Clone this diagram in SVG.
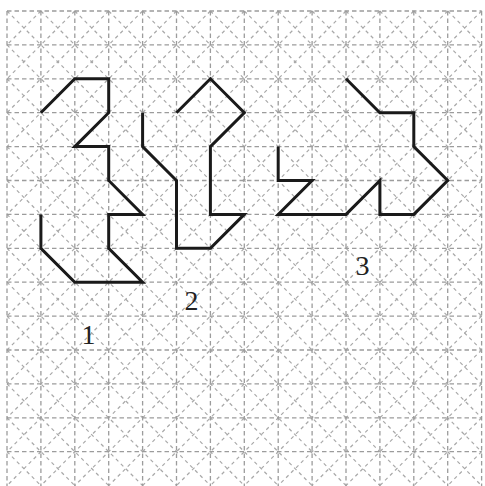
<svg xmlns="http://www.w3.org/2000/svg" width="485" height="486" viewBox="0 0 485 486">
<style>
.grid{fill:none;stroke:#9c9c9c;stroke-width:1.3;stroke-dasharray:4.5 3}
.diag{fill:none;stroke:#a8a8a8;stroke-width:1.2;stroke-dasharray:3.5 3.5}
.shape{fill:none;stroke:#1a1a1a;stroke-width:3;stroke-linejoin:miter;stroke-linecap:butt}
.lbl{font-family:"Liberation Serif","DejaVu Serif",serif;font-size:28px;fill:#222;text-anchor:middle}
</style>
<rect width="485" height="486" fill="#ffffff"/>
<g id="grid">
<path class="diag" d="M7,11L481.6,485.6M40.9,11L481.6,451.7M74.8,11L481.6,417.8M108.7,11L481.6,383.9M142.6,11L481.6,350M176.5,11L481.6,316.1M210.4,11L481.6,282.2M244.3,11L481.6,248.3M278.2,11L481.6,214.4M312.1,11L481.6,180.5M346,11L481.6,146.6M379.9,11L481.6,112.7M413.8,11L481.6,78.8M447.7,11L481.6,44.9M7,44.9L447.7,485.6M7,78.8L413.8,485.6M7,112.7L379.9,485.6M7,146.6L346,485.6M7,180.5L312.1,485.6M7,214.4L278.2,485.6M7,248.3L244.3,485.6M7,282.2L210.4,485.6M7,316.1L176.5,485.6M7,350L142.6,485.6M7,383.9L108.7,485.6M7,417.8L74.8,485.6M7,451.7L40.9,485.6"/>
<path class="diag" d="M40.9,11L7,44.9M74.8,11L7,78.8M108.7,11L7,112.7M142.6,11L7,146.6M176.5,11L7,180.5M210.4,11L7,214.4M244.3,11L7,248.3M278.2,11L7,282.2M312.1,11L7,316.1M346,11L7,350M379.9,11L7,383.9M413.8,11L7,417.8M447.7,11L7,451.7M481.6,11L7,485.6M481.6,44.9L40.9,485.6M481.6,78.8L74.8,485.6M481.6,112.7L108.7,485.6M481.6,146.6L142.6,485.6M481.6,180.5L176.5,485.6M481.6,214.4L210.4,485.6M481.6,248.3L244.3,485.6M481.6,282.2L278.2,485.6M481.6,316.1L312.1,485.6M481.6,350L346,485.6M481.6,383.9L379.9,485.6M481.6,417.8L413.8,485.6M481.6,451.7L447.7,485.6"/>
<path class="grid" d="M7,11V486M40.9,11V486M74.8,11V486M108.7,11V486M142.6,11V486M176.5,11V486M210.4,11V486M244.3,11V486M278.2,11V486M312.1,11V486M346,11V486M379.9,11V486M413.8,11V486M447.7,11V486M481.6,11V486"/>
<path class="grid" d="M7,11H481.6M7,44.9H481.6M7,78.8H481.6M7,112.7H481.6M7,146.6H481.6M7,180.5H481.6M7,214.4H481.6M7,248.3H481.6M7,282.2H481.6M7,316.1H481.6M7,350H481.6M7,383.9H481.6M7,417.8H481.6M7,451.7H481.6"/>
</g>
<g id="figure1">
<polyline class="shape" points="40.9,112.7 74.8,78.8 108.7,78.8 108.7,112.7 74.8,146.6 108.7,146.6 108.7,180.5 142.6,214.4 108.7,214.4 108.7,248.3 142.6,282.2 74.8,282.2 40.9,248.3 40.9,214.4"/>
<text class="lbl" x="88.5" y="344">1</text>
</g>
<g id="figure2">
<polyline class="shape" points="142.6,112.7 142.6,146.6 176.5,180.5 176.5,248.3 210.4,248.3 244.3,214.4 210.4,214.4 210.4,146.6 244.3,112.7 210.4,78.8 176.5,112.7"/>
<text class="lbl" x="191.5" y="310">2</text>
</g>
<g id="figure3">
<polyline class="shape" points="346,78.8 379.9,112.7 413.8,112.7 413.8,146.6 447.7,180.5 413.8,214.4 379.9,214.4 379.9,180.5 346,214.4 278.2,214.4 312.1,180.5 278.2,180.5 278.2,146.6"/>
<text class="lbl" x="362.5" y="275">3</text>
</g>
</svg>
